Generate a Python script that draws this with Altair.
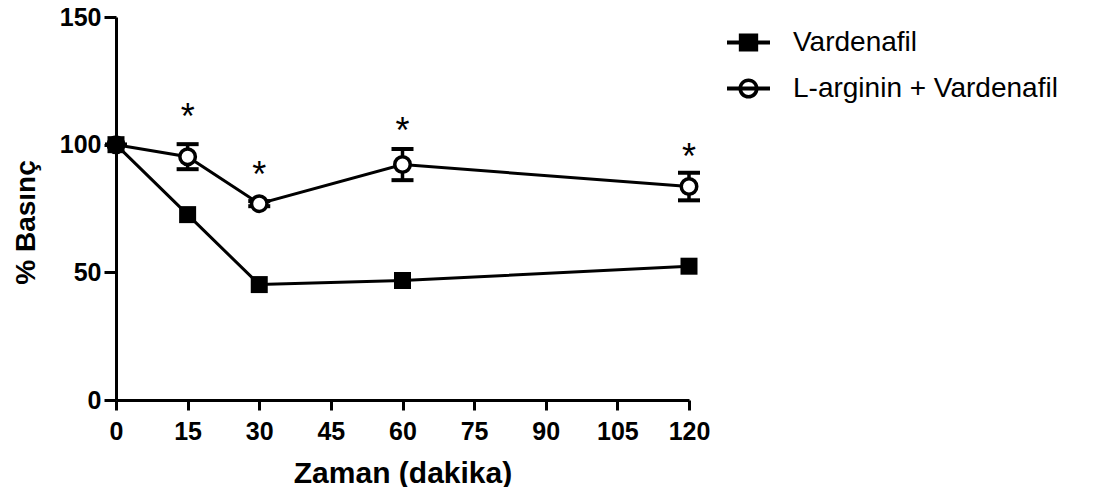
import altair as alt
import pandas as pd

# ---- data ----
minutes = [0, 15, 30, 60, 120]
vardenafil = [100, 72.6, 45.2, 46.8, 52.4]
larginin = [100, 95.3, 76.9, 92.2, 83.6]
larginin_err = [0, 4.9, 1.0, 6.1, 5.4]
star_minutes = [15, 30, 60, 120]
star_values = [114.5, 91.8, 109.0, 98.8]
series_names = ["Vardenafil", "L-arginin + Vardenafil"]
x_ticks = [0, 15, 30, 45, 60, 75, 90, 105, 120]
y_ticks = [0, 50, 100, 150]

FONT = "Liberation Sans"

rows = []
for m, v in zip(minutes, vardenafil):
    rows.append({"Zaman": m, "Basinc": v, "Seri": series_names[0], "lo": v, "hi": v})
for m, v, e in zip(minutes, larginin, larginin_err):
    rows.append({"Zaman": m, "Basinc": v, "Seri": series_names[1], "lo": v - e, "hi": v + e})
df = pd.DataFrame(rows)
stars = pd.DataFrame({"Zaman": star_minutes, "Basinc": star_values})

x_scale = alt.Scale(domain=[0, 120], nice=False, zero=False)
y_scale = alt.Scale(domain=[0, 150], nice=False)

x_axis = alt.Axis(values=x_ticks, title="Zaman (dakika)", grid=False, labelFlush=False,
                  labelOverlap=False,
                  labelFont=FONT, labelFontSize=25, labelFontWeight="bold", labelColor="black",
                  labelPadding=9, tickSize=10, tickWidth=3, tickColor="black",
                  domainWidth=3, domainColor="black",
                  titleFont=FONT, titleFontSize=30, titleFontWeight="bold", titleColor="black",
                  titlePadding=14)
y_axis = alt.Axis(values=y_ticks, title="% Basınç", grid=False, labelFlush=False,
                  labelOverlap=False,
                  labelFont=FONT, labelFontSize=25, labelFontWeight="bold", labelColor="black",
                  labelPadding=3, tickSize=12, tickWidth=3, tickColor="black",
                  domainWidth=3, domainColor="black",
                  titleFont=FONT, titleFontSize=28, titleFontWeight="bold", titleColor="black",
                  titlePadding=19, titleY=205)

X = alt.X("Zaman:Q", scale=x_scale, axis=x_axis)
Y = alt.Y("Basinc:Q", scale=y_scale, axis=y_axis)

lines = alt.Chart(df).mark_line(color="black", strokeWidth=3).encode(
    x=X, y=Y, detail="Seri:N", order="Zaman:Q")

err_df = df[df["Seri"] == series_names[1]]
err_rule = alt.Chart(err_df).mark_rule(color="black", strokeWidth=3.5, opacity=1).encode(
    x="Zaman:Q", y="lo:Q", y2="hi:Q")
err_lo = alt.Chart(err_df).mark_tick(color="black", thickness=4, size=22, orient="horizontal",
                                     opacity=1).encode(x="Zaman:Q", y="lo:Q")
err_hi = alt.Chart(err_df).mark_tick(color="black", thickness=4, size=22, orient="horizontal",
                                     opacity=1).encode(x="Zaman:Q", y="hi:Q")

circles = alt.Chart(df[df["Seri"] == series_names[1]]).mark_point(
    shape="circle", size=240, fill="white", stroke="black", strokeWidth=3.5, opacity=1, filled=False
).encode(x="Zaman:Q", y="Basinc:Q")

squares = alt.Chart(df[df["Seri"] == series_names[0]]).mark_point(
    shape="square", size=289, fill="black", stroke="black", strokeWidth=0, opacity=1, filled=True
).encode(x="Zaman:Q", y="Basinc:Q")

# legend glyphs: line segment + marker, as filled outlines (nonzero fill rule)
sq_path = "M-1,-0.093H1V0.093H-1Z M-0.45,-0.42H0.45V0.42H-0.45Z"
ci_path = ("M-1,-0.093H1V0.093H-1Z "
           "M-0.47,0A0.47,0.47 0 1,1 0.47,0A0.47,0.47 0 1,1 -0.47,0Z "
           "M-0.3,0A0.3,0.3 0 1,0 0.3,0A0.3,0.3 0 1,0 -0.3,0Z")

legend_layer = alt.Chart(df).transform_filter("datum.Zaman < 0").mark_point(
    filled=True, color="black", strokeWidth=0, opacity=1
).encode(
    x="Zaman:Q", y="Basinc:Q",
    shape=alt.Shape("Seri:N", scale=alt.Scale(domain=series_names, range=[sq_path, ci_path]),
                    legend=alt.Legend(title=None, orient="none", legendX=611, legendY=4,
                                      symbolSize=1849, symbolFillColor="black",
                                      symbolStrokeWidth=0, symbolOpacity=1,
                                      labelFont=FONT, labelFontSize=28, labelColor="black",
                                      labelOffset=23, rowPadding=10, padding=0,
                                      labelLimit=400)),
)

star_text = alt.Chart(stars).mark_text(
    text="*", font=FONT, fontSize=36, color="black", baseline="alphabetic", dy=21
).encode(x="Zaman:Q", y="Basinc:Q")

chart = alt.layer(
    lines, err_rule, err_lo, err_hi, circles, squares, star_text, legend_layer
).resolve_scale(shape="independent").properties(
    width=573, height=383,
    autosize=alt.AutoSizeParams(type="none"),
    padding={"left": 108, "top": 9, "right": 423, "bottom": 87},
    background="white",
).configure_view(stroke=None)

chart.save("out.html", embed_options={"renderer": "svg", "actions": False})
